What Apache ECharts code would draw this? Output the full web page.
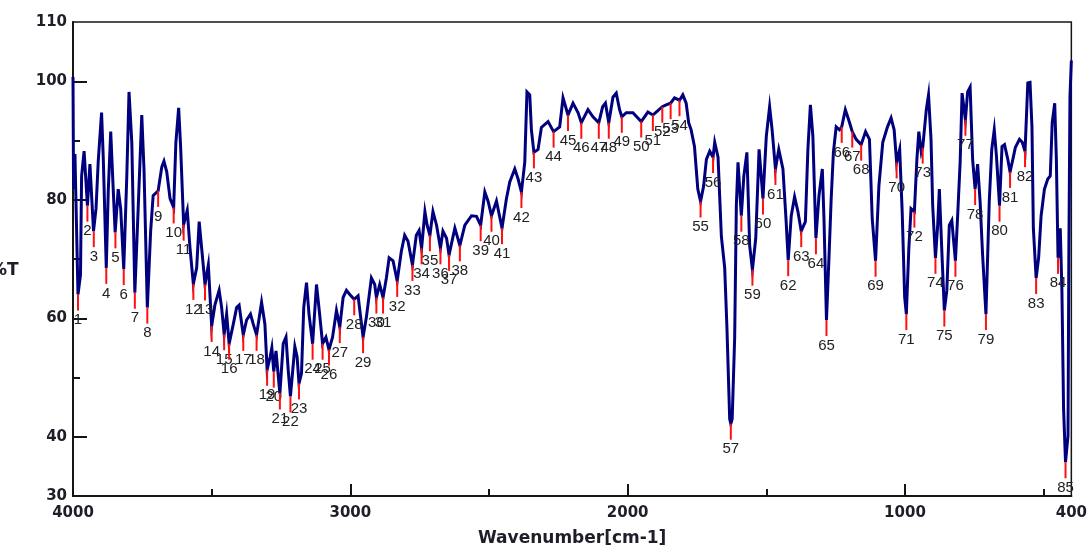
<!DOCTYPE html>
<html>
<head>
<meta charset="utf-8">
<script src="https://cdn.jsdelivr.net/npm/echarts@6/dist/echarts.min.js"></script>
<style>html,body{margin:0;padding:0;background:#fff}#c{width:1090px;height:552px}</style>
</head>
<body>
<div id="c"></div>
<script>
// Spectrum trace: [wavenumber cm-1, %T]
const specOH = [[4000,100.7],[3998,81.8],[3993,87.7],[3982,64.0],[3973,67.3],[3969,84.0],[3960,88.2],[3953,88.0],[3948,79.0],[3939,86.0],[3933,85.7],[3926,74.7],[3917,78.5],[3909,86.5],[3897,94.7],[3891,87.3],[3880,68.5],[3873,81.3],[3864,91.5],[3855,81.8],[3848,74.5],[3837,81.8],[3828,78.5],[3817,68.3],[3806,84.0],[3798,98.2],[3788,89.7],[3777,64.3],[3765,78.5],[3752,94.3],[3744,85.2],[3732,61.8],[3720,74.7],[3711,80.7],[3693,81.5],[3680,85.5],[3672,86.5],[3662,84.7],[3650,80.2],[3637,78.7],[3629,89.7],[3619,95.5],[3612,89.0],[3601,75.8],[3588,78.2],[3578,71.8],[3566,65.8],[3554,68.5],[3545,76.3],[3536,71.8],[3524,65.7],[3512,69.0]];
const specNH = [[3500,58.7],[3488,62.3],[3473,64.7],[3464,61.8],[3455,57.3],[3446,60.7],[3437,55.7],[3422,59.0],[3410,61.8],[3401,62.2],[3386,57.2],[3374,59.7],[3360,60.7],[3350,59.0],[3338,57.2],[3320,62.7],[3308,59.0],[3300,51.3],[3289,53.5],[3283,55.0],[3276,51.0],[3268,54.5],[3254,47.3],[3242,55.7],[3232,56.8],[3224,51.3],[3216,46.8],[3200,55.2],[3192,53.5],[3185,49.0],[3176,50.7],[3168,61.8],[3158,66.0],[3149,60.7],[3136,55.7],[3122,65.7],[3112,61.3],[3100,55.7],[3088,56.8],[3077,54.7],[3064,56.8],[3050,61.3],[3038,58.5],[3026,63.5],[3014,64.7],[3002,64.0]];
const specCH = [[2986,63.2],[2972,63.8],[2954,56.8],[2942,60.2],[2924,66.8],[2912,65.7],[2906,63.5],[2894,65.7],[2882,63.5],[2870,66.8],[2860,70.2],[2846,69.7],[2831,66.3],[2816,71.3],[2804,74.0],[2792,73.0],[2776,69.0],[2762,74.0],[2752,74.8],[2743,71.8],[2731,78.0],[2723,75.7],[2713,74.0],[2702,78.0],[2689,75.7],[2675,71.8],[2666,74.7],[2653,73.5],[2644,70.7],[2623,75.2],[2605,72.3],[2587,75.7],[2563,77.3],[2545,77.2],[2530,75.7],[2515,81.3],[2503,79.7],[2491,77.3],[2473,79.8],[2453,75.2],[2437,80.2],[2425,83.0],[2407,85.2],[2395,83.5],[2383,81.3],[2371,86.3],[2363,98.2],[2353,97.7],[2347,91.8],[2338,88.0],[2323,88.5],[2311,92.2]];
const specMid = [[2287,93.2],[2267,91.5],[2245,92.3],[2233,97.2],[2215,94.3],[2197,96.3],[2179,94.7],[2167,93.0],[2143,95.2],[2125,94.0],[2104,93.0],[2090,95.7],[2080,96.3],[2068,93.0],[2053,97.3],[2041,98.0],[2029,95.2],[2021,94.0],[2005,94.7],[1981,94.7],[1951,93.2],[1927,94.8],[1909,94.3],[1897,94.8],[1875,95.7],[1861,96.0],[1845,96.3],[1831,97.2],[1813,96.8],[1801,97.7],[1789,96.3],[1780,93.0],[1771,91.8],[1759,89.0]];
const specCO = [[1747,81.8],[1737,79.7],[1726,82.3],[1716,86.8],[1704,88.2],[1692,87.2],[1686,89.7],[1674,87.2],[1662,73.8],[1650,68.5],[1642,58.5],[1632,43.0],[1628,42.2],[1623,43.0],[1614,56.8],[1608,79.0],[1602,86.3],[1590,77.3],[1581,84.0],[1570,88.0],[1560,72.3],[1550,68.2],[1538,73.5],[1526,88.5],[1512,80.2],[1500,90.7],[1488,95.7],[1479,91.8],[1467,85.2],[1455,88.5],[1440,85.2],[1429,76.8],[1421,69.8],[1410,77.3],[1398,80.5],[1386,78.0],[1374,74.7],[1359,76.3],[1350,88.5],[1341,96.0],[1332,90.7],[1321,73.5],[1310,80.7],[1298,85.2],[1292,76.8],[1283,59.7],[1274,70.2],[1266,80.2],[1258,88.0],[1248,92.3],[1236,91.8],[1228,92.3],[1215,95.2],[1203,93.5],[1190,91.5],[1176,90.2],[1158,89.3],[1142,91.5],[1128,90.2],[1118,76.8],[1106,69.7],[1094,82.3],[1080,89.7],[1063,92.3],[1050,93.8],[1039,91.8],[1030,86.3],[1019,88.5],[1010,78.0]];
const specFP = [[1001,63.5],[995,60.7],[986,71.8],[978,78.5],[966,78.0],[957,86.8],[950,91.5],[941,88.0],[936,88.8],[923,95.2],[915,97.7],[906,90.2],[900,79.0],[890,70.2],[882,75.7],[876,81.8],[866,70.2],[858,61.3],[849,64.7],[840,75.7],[831,76.5],[818,69.7],[810,77.3],[801,86.3],[794,98.0],[782,93.5],[774,98.2],[765,99.0],[756,86.8],[747,81.8],[738,86.0],[729,79.7],[720,70.7],[708,60.7],[696,79.7],[687,88.5],[678,91.8],[670,87.3],[659,79.0],[650,89.0],[641,89.3],[629,86.8],[621,84.7],[611,86.8],[602,88.8],[587,90.2],[577,89.7],[567,88.2],[557,99.7],[549,99.8],[542,92.3],[537,75.2],[527,66.8],[518,70.2],[509,77.3],[497,81.8],[485,83.5],[476,84.0],[469,93.0],[460,96.3],[454,86.8],[448,70.2],[440,75.2],[434,64.7],[428,44.7],[421,35.7],[412,40.2],[409,70.7],[405,97.3],[400,103.5]];

// Picked peaks (numbered 1..85 in order)
const peakWn = [3982,3948,3925,3880,3847,3817,3777,3732,3693,3637,3601,3566,3524,3500,3455,3437,3386,3338,3300,3276,3254,3216,3185,3136,3100,3077,3038,2986,2954,2906,2882,2831,2776,2743,2713,2675,2644,2605,2530,2491,2453,2383,2338,2267,2215,2167,2104,2068,2021,1951,1909,1875,1845,1813,1737,1692,1628,1590,1550,1512,1467,1421,1374,1321,1283,1228,1190,1158,1106,1030,995,966,936,890,858,818,782,747,708,659,621,567,527,448,421];
const peakT = [64.0,79.0,74.7,68.5,74.5,68.3,64.3,61.8,81.5,78.7,75.8,65.8,65.7,58.7,57.3,55.7,57.2,57.2,51.3,51.0,47.3,46.8,49.0,55.7,55.7,54.7,58.5,63.2,56.8,63.5,63.5,66.3,69.0,71.8,74.0,71.8,70.7,72.3,75.7,77.3,75.2,81.3,88.0,91.5,94.3,93.0,93.0,93.0,94.0,93.2,94.3,95.7,96.3,96.8,79.7,87.2,42.2,77.3,68.2,80.2,85.2,69.8,74.7,73.5,59.7,92.3,91.5,89.3,69.7,86.3,60.7,78.0,88.8,70.2,61.3,69.7,93.5,81.8,60.7,79.0,84.7,88.2,66.8,70.2,35.7];

// Axis ticks / labels
const xLabelValues = [4000,3000,2000,1000,400];
const xMajorTicks = [3000,2000,1000];
const xMinorTicks = [3500,2500,1500,500];
const yLabelValues = [30,40,60,80,100,110];
const yMajorTicks = [40,60,80,100];
const yMinorTicks = [50,70,90];

const spectrum = [].concat(specOH, specNH, specCH, specMid, specCO, specFP);
const peaks = peakWn.map((w, i) => [w, peakT[i], i + 1]);

const chart = echarts.init(document.getElementById('c'), null, {renderer: 'canvas'});
const axisCol = '#151515';
const tickFont = {fontFamily: 'DejaVu Sans', fontWeight: 'bold', fontSize: 15, color: '#1e1e28', formatter: v => String(v)};

chart.setOption({
  animation: false,
  backgroundColor: '#ffffff',
  grid: {left: 73, right: 18, top: 22, bottom: 51, show: true, borderColor: axisCol, borderWidth: 1.5, backgroundColor: 'transparent'},
  xAxis: [{
    type: 'value', min: 400, max: 4000, inverse: true,
    axisLine: {show: true, onZero: false, lineStyle: {color: axisCol, width: 2}},
    axisTick: {show: true, inside: true, length: 12, customValues: xMajorTicks, lineStyle: {color: axisCol, width: 2}},
    axisLabel: Object.assign({customValues: xLabelValues, margin: 10}, tickFont),
    splitLine: {show: false},
    name: 'Wavenumber[cm-1]', nameLocation: 'middle', nameGap: 34,
    nameTextStyle: {fontFamily: 'DejaVu Sans', fontWeight: 'bold', fontSize: 17, color: '#1e1e28'}
  }, {
    type: 'value', min: 400, max: 4000, inverse: true, position: 'bottom', offset: 0,
    axisLine: {show: false},
    axisTick: {show: true, inside: true, length: 7, customValues: xMinorTicks, lineStyle: {color: axisCol, width: 2}},
    axisLabel: {show: false}, splitLine: {show: false}
  }],
  yAxis: [{
    type: 'value', min: 30, max: 110, interval: 10,
    axisLine: {show: true, onZero: false, lineStyle: {color: axisCol, width: 2}},
    axisTick: {show: true, inside: true, length: 14, customValues: yMajorTicks, lineStyle: {color: axisCol, width: 2}},
    axisLabel: Object.assign({customValues: yLabelValues, margin: 6}, tickFont),
    splitLine: {show: false}
  }, {
    type: 'value', min: 30, max: 110, interval: 10, position: 'left', offset: 0,
    axisLine: {show: false},
    axisTick: {show: true, inside: true, length: 7, customValues: yMinorTicks, lineStyle: {color: axisCol, width: 2}},
    axisLabel: {show: false}, splitLine: {show: false}
  }],
  graphic: [{
    type: 'text', x: -10, y: 262,
    style: {text: '%T', font: 'bold 17px "DejaVu Sans"', fill: '#1e1e28'}
  }],
  series: [{
    type: 'line', data: spectrum, xAxisIndex: 0, yAxisIndex: 0,
    showSymbol: false, symbol: 'none', z: 2,
    lineStyle: {color: '#00007f', width: 3, join: 'miter'},
    clip: true
  }, {
    type: 'custom', data: peaks, xAxisIndex: 0, yAxisIndex: 0, z: 3, clip: false,
    encode: {x: 0, y: 1},
    renderItem: function (params, api) {
      const p = api.coord([api.value(0), api.value(1)]);
      const num = String(api.value(2));
      return {
        type: 'group',
        children: [{
          type: 'line',
          shape: {x1: p[0], y1: p[1], x2: p[0], y2: p[1] + 16},
          style: {stroke: '#ff1010', lineWidth: 2}
        }, {
          type: 'text',
          style: {text: num, x: p[0], y: p[1] + 18, align: 'center', verticalAlign: 'top',
                  font: '15px "Liberation Sans"', fill: '#222222'}
        }]
      };
    }
  }]
});
</script>
</body>
</html>
